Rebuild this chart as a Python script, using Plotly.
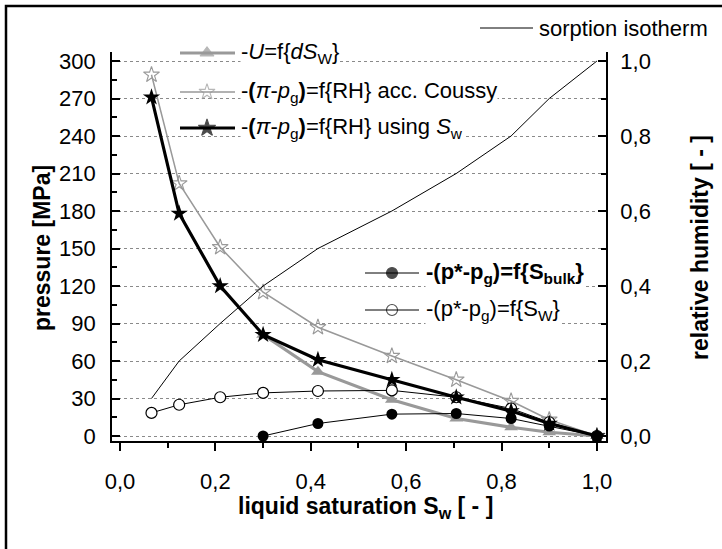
import plotly.graph_objects as go

# liquid saturation S_w of the states
s_w = [0.066, 0.124, 0.21, 0.30, 0.415, 0.57, 0.705, 0.82, 0.90, 1.0]
# relative humidity on the sorption isotherm at those saturations
rel_hum = [0.1, 0.2, 0.3, 0.4, 0.5, 0.6, 0.7, 0.8, 0.9, 1.0]
# pressures [MPa]
u_dsw = [None, None, None, 81, 51.5, 29, 14, 7, 3, 0]
pi_coussy = [289, 202, 151, 115, 87, 64, 45, 28, 13, 0]
pi_using_sw = [271, 178, 120, 81, 61, 45, 31, 20, 10, 0]
p_bulk = [None, None, None, 0, 10, 17.5, 18, 14, 8, 0]
p_sw = [18.5, 25, 31, 34.5, 36, 36.5, 31, 22, 11, 0]

x_ticks = [0.0, 0.2, 0.4, 0.6, 0.8, 1.0]
x_labels = ["0,0", "0,2", "0,4", "0,6", "0,8", "1,0"]
p_ticks = [0, 30, 60, 90, 120, 150, 180, 210, 240, 270, 300]
rh_ticks = [0.0, 0.2, 0.4, 0.6, 0.8, 1.0]
rh_labels = ["0,0", "0,2", "0,4", "0,6", "0,8", "1,0"]

FONT = "Liberation Sans, Arial, sans-serif"
GREY = "#999999"

W, H = 722, 549
L, R, T, B = 112, 116, 52, 108
PW, PH = W - L - R, H - T - B
P_MIN, P_MAX = -4, 307.2


def fx(px):
    return (px - L) / PW


def fy(py):
    return (H - B - py) / PH


fig = go.Figure()

fig.add_trace(go.Scatter(x=s_w, y=u_dsw, mode="lines+markers",
                         line=dict(color=GREY, width=3.2),
                         marker=dict(symbol="triangle-up", size=12, color=GREY)))
fig.add_trace(go.Scatter(x=s_w, y=pi_coussy, mode="lines+markers",
                         line=dict(color=GREY, width=1.5),
                         marker=dict(symbol="star-open", size=12, color=GREY,
                                     line=dict(color=GREY, width=1.1))))
fig.add_trace(go.Scatter(x=s_w, y=p_sw, mode="lines+markers",
                         line=dict(color="black", width=1),
                         marker=dict(symbol="circle", size=11, color="white",
                                     line=dict(color="black", width=1.2))))
fig.add_trace(go.Scatter(x=s_w, y=p_bulk, mode="lines+markers",
                         line=dict(color="black", width=1),
                         marker=dict(symbol="circle", size=11, color="black")))
fig.add_trace(go.Scatter(x=s_w, y=pi_using_sw, mode="lines+markers",
                         line=dict(color="black", width=3.2),
                         marker=dict(symbol="star", size=13, color="black")))
fig.add_trace(go.Scatter(x=s_w, y=rel_hum, yaxis="y2", mode="lines",
                         line=dict(color="black", width=1)))

# legend glyphs, placed on a pixel-scaled helper axis pair
leg_x = [207, 207, 207, 392, 392]
leg_y = [53, 92, 128, 273, 310]
leg_sym = ["triangle-up", "star-open", "star", "circle", "circle"]
leg_col = [GREY, GREY, "black", "black", "white"]
leg_size = [12, 12, 13, 11, 11]
leg_lc = [GREY, GREY, "black", "black", "black"]
fig.add_trace(go.Scatter(x=leg_x, y=leg_y, xaxis="x3", yaxis="y3", mode="markers",
                         cliponaxis=False,
                         marker=dict(symbol=leg_sym, color=leg_col, size=leg_size,
                                     line=dict(color=leg_lc, width=1.1))))

shapes = []
# legend sample lines
for (x0, x1, y, col, w) in [(180, 235, 53, GREY, 3.2), (180, 235, 92, GREY, 1.5),
                            (180, 235, 128, "black", 3.2), (365, 419, 273, "black", 1),
                            (365, 419, 310, "black", 1), (480, 533, 28, "black", 1)]:
    shapes.append(dict(type="line", xref="paper", yref="paper",
                       x0=fx(x0), x1=fx(x1), y0=fy(y), y1=fy(y),
                       line=dict(color=col, width=w)))
# outer frame
shapes.append(dict(type="rect", xref="paper", yref="paper",
                   x0=fx(6), y0=fy(560), x1=fx(740), y1=fy(6),
                   line=dict(color="black", width=2.5)))

annotations = []
legend_texts = [
    (240, 53, "-<i>U</i>=f{<i>dS</i><sub>W</sub>}"),
    (240, 92, "-<b>(</b><i>π</i>-<i>p</i><sub>g</sub><b>)</b>=f{RH} acc. Coussy"),
    (240, 128, "-<b>(</b><i>π</i>-<i>p</i><sub>g</sub><b>)</b>=f{RH} using <i>S</i><sub>w</sub>"),
    (425, 273, "<b>-(p*-p<sub>g</sub>)=f{S<sub>bulk</sub>}</b>"),
    (425, 310, "-(p*-p<sub>g</sub>)=f{S<sub>W</sub>}"),
    (538, 28, "sorption isotherm"),
]
for (x, y, t) in legend_texts:
    annotations.append(dict(xref="paper", yref="paper", x=fx(x), y=fy(y),
                            xanchor="left", yanchor="middle", text=t, showarrow=False,
                            bgcolor="white", borderpad=0,
                            font=dict(family=FONT, size=22, color="black")))

# axis titles
annotations.append(dict(xref="paper", yref="paper", x=fx(42), y=fy(248),
                        text="<b>pressure [MPa]</b>", textangle=-90, showarrow=False,
                        xanchor="center", yanchor="middle",
                        font=dict(family=FONT, size=23, color="black")))
annotations.append(dict(xref="paper", yref="paper", x=fx(700), y=fy(248),
                        text="<b>relative humidity [ - ]</b>", textangle=-90, showarrow=False,
                        xanchor="center", yanchor="middle",
                        font=dict(family=FONT, size=23, color="black")))
annotations.append(dict(xref="paper", yref="paper", x=fx(365), y=fy(507),
                        text="<b>liquid saturation S<sub>w</sub> [ - ]</b>", showarrow=False,
                        xanchor="center", yanchor="middle",
                        font=dict(family=FONT, size=23, color="black")))

tick_font = dict(family=FONT, size=22, color="black")

fig.update_layout(
    width=W, height=H,
    margin=dict(l=L, r=R, t=T, b=B, pad=0),
    paper_bgcolor="white", plot_bgcolor="white",
    showlegend=False,
    shapes=shapes, annotations=annotations,
    xaxis=dict(range=[-0.0168, 1.019], tickvals=x_ticks, ticktext=x_labels,
               ticks="outside", ticklen=8, tickwidth=1.5, tickcolor="black",
               minor=dict(dtick=0.1, tick0=0, ticks="outside", ticklen=5,
                          tickwidth=1.5, tickcolor="black", showgrid=False),
               showline=True, linecolor="black", linewidth=1.8,
               showgrid=False, zeroline=False, tickfont=tick_font,
               ticklabelstandoff=12),
    yaxis=dict(range=[P_MIN, P_MAX], tickvals=p_ticks,
               ticks="inside", ticklen=8, tickwidth=1.5, tickcolor="black",
               minor=dict(dtick=15, tick0=0, ticks="inside", ticklen=5,
                          tickwidth=1.5, tickcolor="black", showgrid=False),
               showline=True, linecolor="black", linewidth=1.8,
               showgrid=True, gridcolor="#8a8a8a", griddash="dot", gridwidth=1,
               zeroline=False, tickfont=tick_font, ticklabelstandoff=10),
    yaxis2=dict(range=[P_MIN / 300, P_MAX / 300], overlaying="y", side="right",
                tickvals=rh_ticks, ticktext=rh_labels,
                ticks="inside", ticklen=8, tickwidth=1.5, tickcolor="black",
                minor=dict(dtick=0.1, tick0=0, ticks="inside", ticklen=5,
                           tickwidth=1.5, tickcolor="black", showgrid=False),
                showline=True, linecolor="black", linewidth=1.8,
                showgrid=False, zeroline=False, tickfont=tick_font,
                ticklabelstandoff=8),
    xaxis3=dict(overlaying="x", range=[L, L + PW], visible=False, anchor="y3"),
    yaxis3=dict(overlaying="y", range=[H - B, T], visible=False, anchor="x3"),
)

fig.write_html("out.html")
